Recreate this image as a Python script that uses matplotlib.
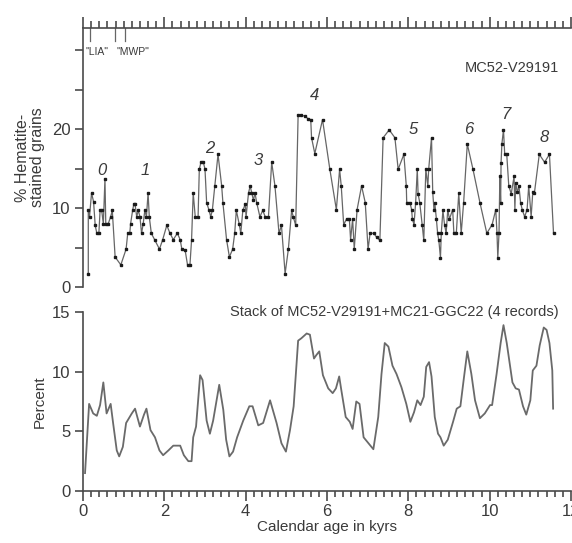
import numpy as np
import matplotlib.pyplot as plt
from matplotlib.ticker import MultipleLocator

plt.rcParams['font.family'] = ['Liberation Sans', 'DejaVu Sans']

# MC52-V29191 hematite-stained grains (age kyr, %)
hsg_age = [0.13, 0.13, 0.16, 0.21, 0.26, 0.30, 0.34, 0.39, 0.42, 0.46, 0.50, 0.54, 0.56,
           0.62, 0.68, 0.72, 0.79, 0.93, 1.06, 1.10, 1.15, 1.17, 1.22, 1.25, 1.28, 1.32,
           1.36, 1.40, 1.44, 1.48, 1.52, 1.56, 1.60, 1.63, 1.68, 1.76, 1.88, 1.96, 2.06,
           2.14, 2.22, 2.32, 2.39, 2.43, 2.51, 2.57, 2.63, 2.67, 2.71, 2.76, 2.83, 2.86,
           2.90, 2.96, 3.00, 3.04, 3.10, 3.14, 3.18, 3.24, 3.32, 3.41, 3.44, 3.53, 3.60,
           3.68, 3.73, 3.77, 3.84, 3.88, 3.93, 3.99, 4.01, 4.07, 4.11, 4.15, 4.19, 4.23,
           4.27, 4.35, 4.42, 4.48, 4.56, 4.64, 4.72, 4.82, 4.88, 4.97, 5.05, 5.13, 5.17,
           5.23, 5.29, 5.37, 5.46, 5.54, 5.60, 5.62, 5.70, 5.89, 6.07, 6.23, 6.31, 6.35,
           6.41, 6.48, 6.55, 6.58, 6.63, 6.67, 6.74, 6.85, 6.94, 7.01, 7.06, 7.15, 7.22,
           7.30, 7.38, 7.53, 7.67, 7.75, 7.89, 7.95, 7.96, 8.04, 8.08, 8.10, 8.14, 8.18,
           8.22, 8.24, 8.28, 8.34, 8.38, 8.43, 8.48, 8.50, 8.57, 8.60, 8.63, 8.65, 8.69,
           8.72, 8.75, 8.79, 8.81, 8.85, 8.89, 8.93, 8.97, 9.01, 9.09, 9.12, 9.18, 9.24,
           9.30, 9.36, 9.45, 9.59, 9.76, 9.93, 10.06, 10.15, 10.18, 10.20, 10.23, 10.25,
           10.27, 10.28, 10.30, 10.34, 10.37, 10.42, 10.47, 10.53, 10.60, 10.62, 10.64,
           10.68, 10.72, 10.76, 10.80, 10.86, 10.92, 10.96, 11.02, 11.06, 11.10, 11.22,
           11.35, 11.47, 11.57]
hsg_pct = [1.7, 9.7, 8.9, 11.9, 10.8, 7.8, 6.8, 6.8, 9.7, 9.7, 8.0, 13.7, 8.0,
           8.0, 8.9, 9.7, 3.8, 2.8, 4.8, 6.8, 6.8, 8.0, 9.7, 10.5, 10.5, 8.9,
           9.7, 8.9, 6.8, 8.0, 9.7, 8.9, 11.9, 8.9, 6.8, 6.0, 4.8, 6.0, 7.8,
           6.8, 6.0, 6.8, 6.0, 4.8, 4.7, 2.8, 2.8, 6.0, 11.9, 8.9, 8.9, 14.9,
           15.8, 15.8, 14.9, 10.7, 9.7, 8.9, 9.7, 12.8, 16.8, 12.8, 10.7, 6.0, 3.8,
           4.8, 6.8, 9.7, 8.0, 6.8, 9.7, 10.5, 8.9, 11.9, 12.8, 11.9, 11.0, 11.9,
           10.7, 8.9, 9.7, 8.9, 8.9, 15.8, 12.8, 6.8, 7.8, 1.7, 4.8, 9.7, 8.9,
           7.8, 21.8, 21.8, 21.6, 21.3, 21.2, 18.9, 16.9, 21.2, 14.9, 9.8, 14.9, 12.8,
           7.9, 8.6, 8.6, 6.0, 8.6, 4.8, 9.8, 12.8, 10.7, 4.8, 6.8, 6.8, 6.3,
           5.9, 18.9, 19.9, 18.9, 14.9, 16.8, 12.8, 10.7, 10.7, 9.8, 8.6, 7.9, 10.7,
           14.9, 11.8, 10.7, 7.9, 5.9, 14.9, 12.8, 14.9, 18.9, 12.0, 9.8, 10.7, 8.6,
           6.8, 5.9, 3.7, 6.8, 9.7, 7.9, 6.8, 9.8, 8.6, 9.8, 6.8, 6.8, 11.9,
           6.8, 10.7, 18.1, 14.9, 10.7, 6.8, 7.9, 9.8, 6.8, 3.7, 6.8, 14.0,
           10.7, 15.7, 18.1, 19.9, 16.8, 16.8, 12.8, 11.8, 14.0, 9.8, 13.2,
           12.0, 12.8, 10.7, 9.8, 8.9, 9.8, 12.8, 8.9, 12.0, 11.9, 16.8,
           15.8, 16.8, 6.8]

# stack of 4 records (age kyr, percent)
stack_age = [0.05, 0.15, 0.25, 0.34, 0.42, 0.50, 0.58, 0.68, 0.74, 0.83, 0.89, 0.98, 1.06,
             1.20, 1.28, 1.40, 1.50, 1.56, 1.66, 1.77, 1.88, 1.97, 2.10, 2.22, 2.39, 2.48,
             2.59, 2.67, 2.71, 2.78, 2.88, 2.94, 3.04, 3.12, 3.20, 3.35, 3.45, 3.52, 3.60,
             3.69, 3.79, 3.94, 4.09, 4.17, 4.31, 4.43, 4.60, 4.76, 4.88, 4.99, 5.09, 5.18,
             5.29, 5.37, 5.50, 5.58, 5.68, 5.74, 5.81, 5.90, 6.03, 6.14, 6.22, 6.30, 6.35,
             6.46, 6.56, 6.63, 6.72, 6.80, 6.90, 7.02, 7.14, 7.26, 7.34, 7.42, 7.51, 7.61,
             7.71, 7.83, 7.95, 8.05, 8.14, 8.22, 8.30, 8.38, 8.44, 8.51, 8.57, 8.65, 8.73,
             8.79, 8.87, 8.97, 9.10, 9.19, 9.28, 9.36, 9.45, 9.55, 9.64, 9.76, 9.88, 10.01,
             10.06, 10.17, 10.27, 10.34, 10.42, 10.56, 10.64, 10.72, 10.82, 10.90, 11.00,
             11.06, 11.15, 11.23, 11.33, 11.40, 11.47, 11.54, 11.56]
stack_pct = [1.5, 7.3, 6.5, 6.3, 7.2, 9.1, 6.5, 7.3, 5.7, 3.4, 2.9, 3.7, 5.7,
             6.5, 6.9, 5.4, 6.4, 6.9, 5.1, 4.5, 3.4, 3.0, 3.4, 3.8, 3.8, 3.0,
             2.5, 2.5, 4.5, 5.4, 9.7, 9.3, 5.9, 4.8, 5.9, 8.9, 6.8, 4.3, 2.9,
             3.3, 4.5, 5.9, 7.1, 7.1, 5.5, 5.7, 7.6, 5.7, 4.0, 3.3, 5.1, 7.1,
             12.6, 12.8, 13.2, 13.1, 11.1, 11.4, 11.7, 9.7, 8.6, 8.2, 8.6, 9.6, 8.5,
             6.2, 5.8, 5.2, 7.5, 7.3, 4.5, 4.0, 3.5, 6.2, 9.8, 12.4, 12.1, 10.5,
             9.8, 8.7, 7.3, 5.8, 6.6, 7.6, 7.2, 7.9, 10.4, 10.8, 9.6, 6.2, 4.8,
             4.5, 3.8, 4.3, 5.8, 6.9, 7.1, 9.3, 11.7, 9.8, 7.6, 6.1, 6.5, 7.2,
             7.2, 9.8, 12.4, 13.9, 12.4, 9.1, 8.6, 8.5, 7.1, 6.4, 7.6,
             10.1, 10.5, 12.2, 13.7, 13.5, 12.4, 10.1, 6.9]

# event labels
event_names = ['0', '1', '2', '3', '4', '5', '6', '7', '8']
event_x = [0.47, 1.52, 3.12, 4.3, 5.70, 8.11, 9.48, 10.4, 11.35]
event_y = [14.7, 14.7, 17.6, 16.0, 24.2, 20.0, 20.0, 21.9, 18.9]

lia_mwp_marks = [0.17, 0.79, 1.03]

txt = '#3a3a3a'
axc = '#4a4a4a'
fig = plt.figure(figsize=(5.72, 5.43), dpi=100)

ax1 = fig.add_axes([83 / 572, 256 / 543, 488 / 572, 259 / 543])
ax2 = fig.add_axes([83 / 572, 52 / 543, 488 / 572, 179 / 543])

# top panel
ax1.plot(hsg_age, hsg_pct, color='#666666', lw=0.9, marker='s', ms=1.8,
         mfc='#1a1a1a', mec='#1a1a1a')
ax1.set_xlim(0, 12)
ax1.set_ylim(0, 32.8)
ax1.spines['bottom'].set_visible(False)
ax1.spines['right'].set_visible(False)
for s in ['left', 'top']:
    ax1.spines[s].set_color(axc)
    ax1.spines[s].set_linewidth(1.2)
ax1.xaxis.tick_top()
ax1.xaxis.set_major_locator(MultipleLocator(2))
ax1.xaxis.set_minor_locator(MultipleLocator(0.2))
ax1.tick_params(axis='x', which='major', direction='out', length=8, width=1.2,
                color=axc, labeltop=False)
ax1.tick_params(axis='x', which='minor', direction='out', length=5, width=1.2,
                color=axc)
ax1.set_yticks([0, 10, 20])
ax1.yaxis.set_minor_locator(MultipleLocator(5))
ax1.tick_params(axis='y', which='both', direction='out', length=6, width=1.2,
                color=axc, labelsize=12, labelcolor=txt, pad=3)
ax1.set_ylabel('% Hematite-\nstained grains', fontsize=11.5, color=txt, labelpad=5,
               linespacing=1.0)
for xm in lia_mwp_marks:
    ax1.plot([xm, xm], [32.8, 31.1], color='#666666', lw=0.9, clip_on=False)
ax1.text(0.07, 29.7, '"LIA"', fontsize=7.5, color=txt, va='center', ha='left')
ax1.text(0.82, 29.7, '"MWP"', fontsize=7.5, color=txt, va='center', ha='left')
for name, ex, ey in zip(event_names, event_x, event_y):
    ax1.text(ex, ey, name, fontsize=12, style='italic', color=txt,
             ha='center', va='center')
ax1.text(11.7, 27.7, 'MC52-V29191', fontsize=10.5, color=txt, ha='right', va='center')

# bottom panel
ax2.plot(stack_age, stack_pct, color='#6a6a6a', lw=1.3)
ax2.set_xlim(0, 12)
ax2.set_ylim(0, 15)
ax2.spines['top'].set_visible(False)
ax2.spines['right'].set_visible(False)
for s in ['left', 'bottom']:
    ax2.spines[s].set_color(axc)
    ax2.spines[s].set_linewidth(1.2)
ax2.xaxis.set_major_locator(MultipleLocator(2))
ax2.xaxis.set_minor_locator(MultipleLocator(0.2))
ax2.tick_params(axis='x', which='major', direction='out', length=7, width=1.2,
                color=axc, labelsize=12, labelcolor=txt, pad=2)
ax2.tick_params(axis='x', which='minor', direction='out', length=4, width=1.2,
                color=axc)
ax2.set_yticks([0, 5, 10, 15])
ax2.tick_params(axis='y', direction='out', length=6, width=1.2, color=axc,
                labelsize=12, labelcolor=txt, pad=3)
ax2.set_ylabel('Percent', fontsize=11, color=txt, labelpad=4)
ax2.set_xlabel('Calendar age in kyrs', fontsize=11, color=txt, labelpad=1)
ax2.text(11.7, 15.0, 'Stack of MC52-V29191+MC21-GGC22 (4 records)', fontsize=10.5,
         color=txt, ha='right', va='center')

fig.savefig('out.png', dpi=100)
